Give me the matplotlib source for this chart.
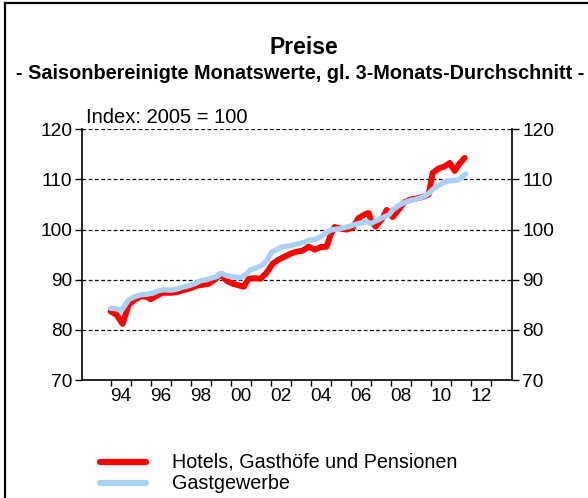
import matplotlib
matplotlib.use("Agg")
import matplotlib.pyplot as plt
from matplotlib.lines import Line2D
from matplotlib.ticker import FixedLocator, NullFormatter, FixedFormatter

plt.rcParams['font.family'] = ['Liberation Sans', 'DejaVu Sans']

# --- data ---
hotels_t = [1994.0, 1994.3, 1994.6, 1994.9, 1995.2, 1995.5, 1995.8, 1996.0, 1996.3, 1996.6,
            1997.0, 1997.3, 1997.6, 1998.0, 1998.3, 1998.6, 1998.9, 1999.2, 1999.5, 1999.8,
            2000.1, 2000.4, 2000.65, 2000.9, 2001.2, 2001.5, 2001.8, 2002.1, 2002.4, 2002.7,
            2003.0, 2003.3, 2003.6, 2003.9, 2004.2, 2004.5, 2004.8, 2005.0, 2005.2, 2005.5,
            2005.8, 2006.1, 2006.4, 2006.7, 2006.9, 2007.05, 2007.25, 2007.6, 2007.8, 2008.1,
            2008.4, 2008.7, 2009.0, 2009.3, 2009.6, 2009.9, 2010.1, 2010.4, 2010.7, 2010.95,
            2011.2, 2011.45, 2011.7]
hotels_v = [83.7, 83.0, 81.2, 85.0, 86.0, 86.7, 86.6, 86.1, 86.8, 87.4,
            87.4, 87.5, 87.9, 88.3, 88.8, 89.0, 89.2, 90.0, 91.1, 89.8,
            89.2, 88.9, 88.6, 90.2, 90.3, 90.2, 91.4, 93.2, 94.0, 94.6,
            95.2, 95.6, 95.8, 96.6, 96.0, 96.5, 96.6, 99.0, 100.5, 100.2,
            100.0, 100.4, 102.3, 103.0, 103.3, 101.5, 100.6, 102.3, 103.9, 102.5,
            104.0, 105.5, 106.0, 106.2, 106.5, 107.0, 111.3, 112.2, 112.6, 113.3,
            111.7, 113.2, 114.3]

gast_t = [1994.0, 1994.3, 1994.55, 1994.9, 1995.2, 1995.5, 1995.8, 1996.1, 1996.4, 1996.7,
          1997.0, 1997.3, 1997.6, 1997.9, 1998.2, 1998.5, 1998.8, 1999.0, 1999.3, 1999.55,
          1999.8, 2000.1, 2000.5, 2000.8, 2001.0, 2001.3, 2001.6, 2001.85, 2002.05, 2002.3,
          2002.6, 2002.9, 2003.1, 2003.4, 2003.7, 2003.9, 2004.2, 2004.5, 2004.8, 2005.0,
          2005.3, 2005.6, 2005.9, 2006.2, 2006.5, 2006.8, 2007.0, 2007.3, 2007.6, 2007.9,
          2008.1, 2008.4, 2008.8, 2009.1, 2009.4, 2009.6, 2009.9, 2010.1, 2010.3, 2010.6,
          2010.9, 2011.1, 2011.4, 2011.75]
gast_v = [84.3, 84.2, 83.9, 86.0, 86.6, 87.0, 87.1, 87.3, 87.8, 88.0,
          87.9, 88.1, 88.5, 88.8, 89.2, 89.8, 90.0, 90.3, 90.6, 91.3,
          90.8, 90.6, 90.4, 91.2, 92.0, 92.4, 93.0, 94.0, 95.5, 96.0,
          96.6, 96.7, 96.9, 97.2, 97.5, 97.9, 98.0, 98.6, 99.4, 99.9,
          100.1, 100.3, 100.6, 101.0, 101.3, 101.6, 101.2, 101.8, 102.4, 102.9,
          103.9, 104.8, 105.6, 105.9, 106.2, 106.5, 107.2, 108.0, 108.6, 109.3,
          109.7, 109.8, 109.9, 111.1]

year_ticks = list(range(1994, 2014))
label_years = list(range(1994, 2014, 2))
label_texts = ["94", "96", "98", "00", "02", "04", "06", "08", "10", "12"]
y_ticks = [70, 80, 90, 100, 110, 120]
series_names = ["Hotels, Gasthöfe und Pensionen", "Gastgewerbe"]

W, H = 588, 498
fig = plt.figure(figsize=(W / 100, H / 100), dpi=100)
ax = fig.add_axes([82 / W, 1 - 380 / H, 430.5 / W, 250.7 / H])

red = "#ff0000"
blue = "#aad0f6"
ax.plot(hotels_t, hotels_v, color=red, lw=4.3, solid_capstyle='round', solid_joinstyle='round', zorder=3)
ax.plot(gast_t, gast_v, color=blue, lw=3.8, solid_capstyle='round', solid_joinstyle='round', zorder=4)

ax.set_xlim(1992.57, 2014.09)
ax.set_ylim(70, 120)

for g in [80, 90, 100, 110, 120]:
    ax.axhline(g, color='black', lw=0.9, ls=(0, (3, 2)), zorder=1)

ax.spines['top'].set_visible(False)
for s in ['left', 'right', 'bottom']:
    ax.spines[s].set_linewidth(1.2)

ax.xaxis.set_major_locator(FixedLocator(year_ticks))
ax.xaxis.set_major_formatter(NullFormatter())
ax.xaxis.set_minor_locator(FixedLocator([y + 0.5 for y in label_years]))
ax.xaxis.set_minor_formatter(FixedFormatter(label_texts))
ax.tick_params(axis='x', which='major', length=4, width=1, direction='out')
ax.tick_params(axis='x', which='minor', length=0, labelsize=13.8, pad=6)

ax.set_yticks(y_ticks)
ax.tick_params(axis='y', which='major', length=5, width=1, direction='out',
               labelsize=13.8, left=True, right=True, labelleft=True, labelright=True, pad=2)

fig.text(304 / W, 1 - 48 / H, "Preise", ha='center', va='center', fontsize=16.5, fontweight='bold')
fig.text(300 / W, 1 - 73 / H, "- Saisonbereinigte Monatswerte, gl. 3-Monats-Durchschnitt -",
         ha='center', va='center', fontsize=14.3, fontweight='bold')
fig.text(86 / W, 1 - 117 / H, "Index: 2005 = 100", ha='left', va='center', fontsize=14.5)

# legend
for (yy, col, name) in [(462, red, series_names[0]), (483, blue, series_names[1])]:
    fig.add_artist(Line2D([100 / W, 146 / W], [1 - yy / H, 1 - yy / H], color=col, lw=4.5,
                          solid_capstyle='round', transform=fig.transFigure))
    fig.text(172 / W, 1 - yy / H, name, ha='left', va='center', fontsize=14.2)

# frame
fig.add_artist(Line2D([4.5 / W, 4.5 / W], [0, 1 - 3.5 / H], color='black', lw=1.6, transform=fig.transFigure))
fig.add_artist(Line2D([4.5 / W, 1], [1 - 3.5 / H, 1 - 3.5 / H], color='black', lw=1.6, transform=fig.transFigure))

fig.savefig("out.png", dpi=100)
